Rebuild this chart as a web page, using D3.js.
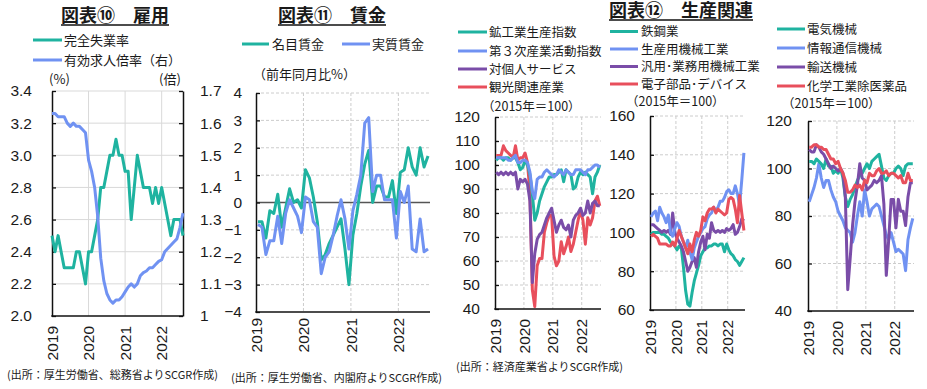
<!DOCTYPE html>
<html>
  <head>
    <meta charset="utf-8" />
    <style>
      body,
      html {
        margin: 0;
        padding: 0;
        background: #fff;
        overflow: hidden;
      }
      svg {
        display: block;
      }
      text {
        font-family: "Liberation Sans", Arial, "Noto Sans CJK JP", sans-serif;
        fill: #1a1a1a;
      }
      .jp {
        font-family: "Noto Sans CJK JP", sans-serif;
      }
    </style>
  </head>
  <body>
    <script src="https://cdn.jsdelivr.net/npm/d3@7"></script>
    <script>
      const width = 927;
      const height = 389;

      const TEAL = "#1fb3a0";
      const BLUE = "#7092f2";
      const PURPLE = "#7a4da8";
      const RED = "#e84f5c";

      const years = ["2019", "2020", "2021", "2022"];

      // 図表⑩ 雇用 (2019/1 - 2022/8)
      const unemployment = [
        2.5, 2.4, 2.5, 2.4, 2.3, 2.3, 2.3, 2.3, 2.4, 2.4, 2.3, 2.2,
        2.4, 2.4, 2.5, 2.6, 2.8, 2.8, 2.9, 3.0, 3.0, 3.1, 3.0, 3.0,
        2.9, 2.9, 2.6, 2.8, 3.0, 2.9, 2.8, 2.8, 2.8, 2.7, 2.8, 2.7,
        2.8, 2.7, 2.6, 2.5, 2.6, 2.6, 2.6, 2.5,
      ];
      const jobRatio = [
        1.63, 1.63, 1.62, 1.62, 1.62, 1.6, 1.59, 1.6, 1.59, 1.59, 1.58, 1.57,
        1.485, 1.45, 1.4, 1.31, 1.18, 1.11, 1.07, 1.05, 1.04, 1.05, 1.05, 1.06,
        1.075, 1.09, 1.1, 1.09, 1.1, 1.125, 1.135, 1.14, 1.15, 1.15, 1.16, 1.17,
        1.175, 1.2, 1.21, 1.22, 1.23, 1.24, 1.275, 1.32,
      ];

      // 図表⑪ 賃金 (前年同月比%)
      const nominalWage = [
        -0.7, -0.7, -1.3, -0.3, -0.4, 0.3, -0.9, -0.2, 0.5, 0.0, 0.1, -0.2,
        1.2, 0.9, 0.2, -0.7, -2.1, -1.9, -1.5, -1.2, -0.9, -0.6, -1.7, -3.0,
        -1.2, -0.4, 0.6, 1.4, 1.9, 0.0, 0.6, 0.6, 0.2, 0.2, 0.8, -0.4,
        1.1, 1.2, 2.0, 1.3, 1.0, 2.0, 1.3, 1.7,
      ];
      const realWage = [
        -0.8, -0.9, -1.9, -1.4, -1.4, -0.5, -1.5, -0.4, 0.1, -0.2, -0.5, -1.1,
        0.2, 0.1, -0.7, -0.9, -2.6, -2.0, -1.8, -1.2, -0.5, 0.1, -0.6, -1.7,
        -0.3, 0.3, 1.0, 2.9, 3.1, 0.4, 1.0, 1.0, 0.1, 0.1, 0.1, -1.3,
        0.4, 0.0, 0.6, -1.7, -1.8, -0.6, -1.8, -1.7,
      ];

      // 図表⑫ 生産関連 (2015年=100)
      const mining = [
        102, 103, 103, 102, 103, 103, 102, 103, 103, 101, 98, 99,
        102, 100, 96, 88, 77, 80, 85, 88, 91, 93, 95, 95,
        96, 96, 97, 98, 93, 98, 97, 96, 90, 91, 95, 97,
        96, 97, 96, 95, 88, 95, 97, 100,
      ];
      const tertiary = [
        103, 103, 103, 103, 103, 102, 102, 103, 104, 101, 101, 102,
        102, 101, 97, 89, 86, 94, 95, 95, 97, 98, 97, 96,
        95, 96, 98, 97, 96, 98, 97, 96, 96, 98, 98, 98,
        97, 96, 98, 98, 99, 100, 100, 99,
      ];
      const personalServices = [
        97, 96, 97, 96, 97, 96, 97, 96, 97, 90, 94, 93,
        94, 92, 85, 51, 63, 69, 71, 72, 75, 78, 80, 82,
        77, 72, 75, 77, 74, 73, 75, 70, 77, 79, 80, 82,
        79, 80, 85, 80, 84, 85, 83, 83,
      ];
      const tourism = [
        104, 104, 104, 108, 106, 105, 104, 103, 108, 102, 103, 103,
        105, 101, 88, 48, 41, 58, 61, 61, 72, 76, 79, 79,
        62, 58, 60, 68, 63, 66, 70, 64, 67, 72, 77, 81,
        77, 67, 78, 75, 78, 85, 87, 83,
      ];

      const steel = [
        99, 100, 100, 100, 100, 99, 99, 98, 97, 95, 94, 93,
        91, 93, 92, 82, 70, 63, 62, 69, 75, 79, 83, 88,
        90, 92, 92, 93, 93, 94, 94, 93, 94, 94, 90, 94,
        91, 89, 88, 86, 85, 83, 85, 87,
      ];
      const productionMachinery = [
        108, 110, 111, 106, 113, 110, 108, 105, 109, 100, 98, 102,
        105, 103, 98, 95, 92, 96, 90, 86, 92, 95, 98, 100,
        102, 103, 107, 109, 110, 113, 111, 113, 116, 116, 118, 121,
        122, 120, 120, 124, 120, 114, 127, 141,
      ];
      const generalMachinery = [
        104, 104, 103, 102, 101, 100, 101, 100, 101, 99, 110, 100,
        97, 95, 93, 90, 85, 80, 82, 85, 87, 82, 90, 95,
        98, 91, 99, 97, 105, 101, 100, 101, 100, 101, 100, 102,
        101, 102, 104, 99, 100, 103, 107, 106,
      ];
      const electronics = [
        98, 99, 98, 97, 94, 94, 94, 94, 93, 93, 95, 93,
        97, 101, 98, 95, 92, 89, 94, 90, 96, 100, 98, 101,
        108, 106, 110, 112, 112, 113, 110, 112, 111, 110, 109, 110,
        117, 118, 117, 112, 105, 119, 110, 101,
      ];

      const electrical = [
        103, 103, 102, 104, 103, 102, 100, 104, 101, 101, 98, 99,
        98, 100, 96, 88, 84, 87, 89, 92, 95, 97, 98, 100,
        102, 100, 103, 104, 105, 106, 101, 96, 95, 97, 98, 98,
        100, 101, 100, 97, 101, 102, 102, 102,
      ];
      const ict = [
        86, 89, 92, 96, 102, 96, 92, 95, 95, 91, 88, 86,
        82, 80, 78, 75, 74, 73, 69, 73, 80, 86, 80, 91,
        86, 80, 83, 84, 85, 84, 80, 76, 72, 70, 73, 69,
        65, 66, 65, 64, 57, 70, 75, 79,
      ];
      const transport = [
        108, 107, 107, 110, 109, 107, 106, 104, 102, 100, 101, 100,
        99, 100, 98, 88, 49, 62, 76, 86, 93, 102, 96, 95,
        91, 92, 93, 95, 94, 95, 97, 85, 55, 70, 87, 87,
        75, 87, 82, 82, 76, 88, 94, 94,
      ];
      const chemicals = [
        109, 109, 110, 110, 109, 109, 108, 108, 106, 104, 104, 102,
        103, 100, 98, 95, 90, 90, 91, 93, 92, 93, 91, 95,
        94, 98, 97, 97, 99, 100, 98, 98, 99, 97, 98, 98,
        97, 96, 97, 94, 94, 98, 95, 95,
      ];

      const svg = d3
        .select("body")
        .append("svg")
        .attr("width", width)
        .attr("height", height)
        .attr("viewBox", `0 0 ${width} ${height}`);

      function drawPanel(p) {
        const g = svg.append("g");
        const x = d3.scaleLinear().domain(p.xDomain).range([p.left, p.right]);
        const y = d3.scaleLinear().domain(p.yDomain).range([p.bottom, p.top]);
        const dash = p.solidGrid ? null : "3,2";
        const gridColor = p.solidGrid ? "#d9d9d9" : "#cccccc";

        // grid
        g.selectAll(".hgrid")
          .data(p.yTicks.filter((d) => d !== p.yDomain[0] && d !== p.zero))
          .enter()
          .append("line")
          .attr("x1", p.left)
          .attr("x2", p.right)
          .attr("y1", (d) => y(d))
          .attr("y2", (d) => y(d))
          .attr("stroke", gridColor)
          .attr("stroke-width", 1)
          .attr("stroke-dasharray", dash);
        g.selectAll(".vgrid")
          .data([12, 24, 36])
          .enter()
          .append("line")
          .attr("x1", (d) => x(d))
          .attr("x2", (d) => x(d))
          .attr("y1", p.top)
          .attr("y2", p.bottom)
          .attr("stroke", gridColor)
          .attr("stroke-width", 1)
          .attr("stroke-dasharray", dash);

        if (p.zero !== undefined) {
          g.append("line")
            .attr("x1", p.left)
            .attr("x2", p.right)
            .attr("y1", y(p.zero))
            .attr("y2", y(p.zero))
            .attr("stroke", "#555")
            .attr("stroke-width", 1.3);
        }

        // left axis
        const ax = g
          .append("g")
          .attr("transform", `translate(${p.left},0)`)
          .call(
            d3
              .axisLeft(y)
              .tickValues(p.yTicks)
              .tickSize(-4)
              .tickSizeOuter(0)
              .tickPadding(p.pad)
              .tickFormat(p.fmt)
          );
        ax.select(".domain").attr("stroke", "#111").attr("stroke-width", 1.5);
        ax.selectAll(".tick line").attr("stroke", "#111").attr("stroke-width", 1.3);
        ax.selectAll("text").attr("font-size", 15.5).attr("fill", "#1a1a1a");

        let y2 = null;
        if (p.right2) {
          y2 = d3.scaleLinear().domain(p.right2.domain).range([p.bottom, p.top]);
          const ax2 = g
            .append("g")
            .attr("transform", `translate(${p.right},0)`)
            .call(
              d3
                .axisRight(y2)
                .tickValues(p.right2.ticks)
                .tickSize(-4)
                .tickSizeOuter(0)
                .tickPadding(p.right2.pad)
                .tickFormat(p.right2.fmt)
            );
          ax2.select(".domain").attr("stroke", "#111").attr("stroke-width", 1.5);
          ax2.selectAll(".tick line").attr("stroke", "#111").attr("stroke-width", 1.3);
          ax2.selectAll("text").attr("font-size", 15.5).attr("fill", "#1a1a1a");
        }

        // bottom axis
        g.append("line")
          .attr("x1", p.left - 0.75)
          .attr("x2", p.right)
          .attr("y1", p.bottom)
          .attr("y2", p.bottom)
          .attr("stroke", "#111")
          .attr("stroke-width", 1.5);

        g.selectAll(".year")
          .data(years)
          .enter()
          .append("text")
          .attr("transform", (d, i) => `translate(${x(i * 12)},${p.yearTop}) rotate(-90)`)
          .attr("text-anchor", "end")
          .attr("dy", "0.36em")
          .attr("font-size", 15.5)
          .text((d) => d);

        const off = p.offset || 0;
        p.series.forEach((s) => {
          const ys = s.right ? y2 : y;
          const line = d3
            .line()
            .x((d, i) => x(i + off))
            .y((d) => ys(d));
          g.append("path")
            .datum(s.values)
            .attr("fill", "none")
            .attr("stroke", s.color)
            .attr("stroke-width", 3)
            .attr("stroke-linejoin", "round")
            .attr("d", line);
        });
      }

      function legend(items, lx1, lx2, tx, rows, size) {
        items.forEach((it, i) => {
          svg
            .append("line")
            .attr("x1", lx1)
            .attr("x2", lx2)
            .attr("y1", rows[i])
            .attr("y2", rows[i])
            .attr("stroke", it.color)
            .attr("stroke-width", 3);
          svg
            .append("text")
            .attr("class", "jp")
            .attr("x", tx)
            .attr("y", rows[i])
            .attr("dy", "0.36em")
            .attr("font-size", size)
            .text(it.name);
        });
      }

      function title(txt, cx, base) {
        const t = svg
          .append("text")
          .attr("class", "jp")
          .attr("x", cx)
          .attr("y", base)
          .attr("text-anchor", "middle")
          .attr("font-size", 18)
          .attr("font-weight", "bold")
          .text(txt);
        const w = t.node().getComputedTextLength();
        svg
          .append("line")
          .attr("x1", cx - w / 2)
          .attr("x2", cx + w / 2)
          .attr("y1", base + 3)
          .attr("y2", base + 3)
          .attr("stroke", "#111")
          .attr("stroke-width", 1.6);
      }

      function note(txt, x, y, size, anchor) {
        svg
          .append("text")
          .attr("class", "jp")
          .attr("x", x)
          .attr("y", y)
          .attr("font-size", size)
          .attr("text-anchor", anchor || "start")
          .attr("fill", "#333")
          .text(txt);
      }

      // 図表⑩
      drawPanel({
        left: 52, right: 183, top: 91, bottom: 316,
        xDomain: [0, 43],
        yDomain: [2.0, 3.4],
        yTicks: d3.range(2.0, 3.41, 0.2),
        fmt: d3.format(".1f"),
        pad: 20,
        solidGrid: true,
        yearTop: 326,
        right2: {
          domain: [1.0, 1.7],
          ticks: d3.range(1.0, 1.71, 0.1),
          fmt: (d) => (Math.abs(d - 1) < 1e-6 ? "1" : d.toFixed(1)),
          pad: 17,
        },
        series: [
          { values: unemployment, color: TEAL },
          { values: jobRatio, color: BLUE, right: true },
        ],
      });
      title("図表⑩\u3000雇用", 115, 22);
      legend(
        [
          { name: "完全失業率", color: TEAL },
          { name: "有効求人倍率（右）", color: BLUE },
        ],
        33, 62, 64, [40, 60], 13
      );
      note("(%)", 59.5, 84, 13, "middle");
      note("(倍)", 170, 84, 13, "middle");
      note("(出所：厚生労働省、総務省よりSCGR作成)", 7, 379, 11);

      // 図表⑪
      drawPanel({
        left: 256, right: 430, top: 93, bottom: 312,
        xDomain: [0, 44],
        offset: 0.5,
        yDomain: [-4, 4],
        yTicks: d3.range(-4, 5, 1),
        zero: 0,
        fmt: d3.format("d"),
        pad: 14,
        yearTop: 318,
        series: [
          { values: nominalWage, color: TEAL },
          { values: realWage, color: BLUE },
        ],
      });
      title("図表⑪\u3000賃金", 332, 22);
      legend([{ name: "名目賃金", color: TEAL }], 242, 269, 272, [44], 13);
      legend([{ name: "実質賃金", color: BLUE }], 342, 370, 372, [44], 13);
      note("（前年同月比%）", 253, 79, 13);
      note("(出所：厚生労働省、内閣府よりSCGR作成)", 231, 382, 11);

      // 図表⑫
      drawPanel({
        left: 495, right: 601, top: 117, bottom: 309,
        xDomain: [0, 44],
        offset: 0.5,
        yDomain: [40, 120],
        yTicks: d3.range(40, 121, 10),
        fmt: d3.format("d"),
        pad: 15,
        yearTop: 319,
        series: [
          { values: tourism, color: RED },
          { values: personalServices, color: PURPLE },
          { values: mining, color: TEAL },
          { values: tertiary, color: BLUE },
        ],
      });
      legend(
        [
          { name: "鉱工業生産指数", color: TEAL },
          { name: "第３次産業活動指数", color: BLUE },
          { name: "対個人サービス", color: PURPLE },
          { name: "観光関連産業", color: RED },
        ],
        458, 487, 489, [32, 51, 69, 87], 12.5
      );
      note("（2015年＝100）", 482, 111, 12.5);
      note("(出所：経済産業省よりSCGR作成)", 456, 371, 11);

      drawPanel({
        left: 650, right: 745, top: 116, bottom: 310,
        xDomain: [0, 44],
        offset: 0.5,
        yDomain: [60, 160],
        yTicks: d3.range(60, 161, 20),
        fmt: d3.format("d"),
        pad: 15,
        yearTop: 320,
        series: [
          { values: steel, color: TEAL },
          { values: generalMachinery, color: PURPLE },
          { values: productionMachinery, color: BLUE },
          { values: electronics, color: RED },
        ],
      });
      title("図表⑫\u3000生産関連", 681, 17);
      legend(
        [
          { name: "鉄鋼業", color: TEAL },
          { name: "生産用機械工業", color: BLUE },
          { name: "汎用･業務用機械工業", color: PURPLE },
          { name: "電子部品･デバイス", color: RED },
        ],
        610, 638, 641, [31.5, 49, 66.5, 84], 12.5
      );
      note("（2015年＝100）", 626, 106, 12.5);

      drawPanel({
        left: 808, right: 914, top: 121, bottom: 311,
        xDomain: [0, 44],
        offset: 0.5,
        yDomain: [40, 120],
        yTicks: d3.range(40, 121, 20),
        fmt: d3.format("d"),
        pad: 16,
        yearTop: 321,
        series: [
          { values: ict, color: BLUE },
          { values: electrical, color: TEAL },
          { values: transport, color: PURPLE },
          { values: chemicals, color: RED },
        ],
      });
      legend(
        [
          { name: "電気機械", color: TEAL },
          { name: "情報通信機械", color: BLUE },
          { name: "輸送機械", color: PURPLE },
          { name: "化学工業除医薬品", color: RED },
        ],
        777, 805, 807, [29, 48, 67, 86], 12.5
      );
      note("（2015年＝100）", 782, 108, 12.5);
    </script>
  </body>
</html>
